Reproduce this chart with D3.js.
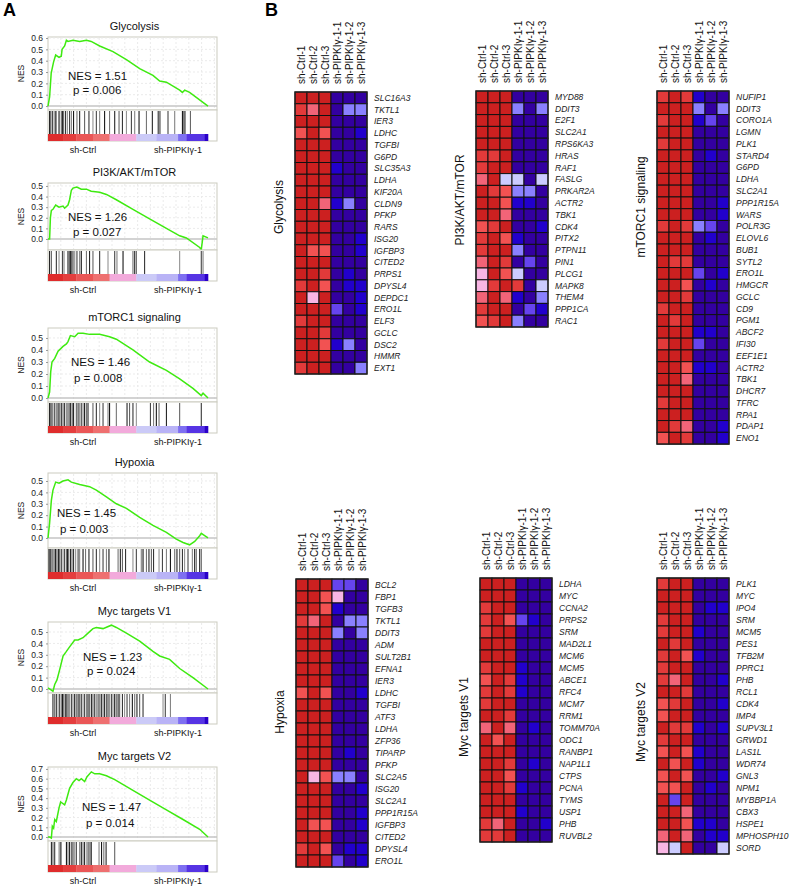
<!DOCTYPE html>
<html><head><meta charset="utf-8">
<script src="https://cdn.jsdelivr.net/npm/d3@7"></script>
<style>body{margin:0;background:#fff;} svg{display:block;font-family:"Liberation Sans",Arial,sans-serif;}</style>
</head><body><svg id="c" width="789" height="886"></svg>
<script>
// ---------------- DATA ----------------
const gseaTitles = ["Glycolysis","PI3K/AKT/mTOR","mTORC1 signaling","Hypoxia","Myc targets V1","Myc targets V2"];
const gseaNES = ["1.51","1.26","1.46","1.45","1.23","1.47"];
const gseaP = ["0.006","0.027","0.008","0.003","0.024","0.014"];
const gseaTickMax = [0.6,0.5,0.5,0.5,0.5,0.7];
const gseaDomains = [[-0.035,0.609],[-0.104,0.528],[-0.033,0.583],[-0.088,0.57],[-0.035,0.588],[-0.041,0.72]];
const groupLabels = ["sh-Ctrl","sh-PIPKIγ-1"];

// running enrichment score: [rank %, ES]
const curveGlycolysis = [[0,0],[1,0.08],[2,0.29],[3.5,0.39],[4.8,0.45],[6.9,0.43],[8.3,0.44],[8.8,0.5],[10.4,0.53],[11.5,0.58],[12.5,0.57],[15.6,0.58],[19.8,0.57],[24,0.58],[27,0.57],[32.3,0.53],[40.6,0.48],[49,0.41],[57.3,0.33],[65.6,0.27],[69.8,0.22],[74,0.21],[82.3,0.14],[84,0.12],[85.4,0.14],[88.5,0.12],[100,0]];
const curvePI3K = [[0,0],[1,0],[1.5,0.2],[2.1,0.27],[3.1,0.28],[4.8,0.32],[6.9,0.3],[9.4,0.31],[10.4,0.29],[12.5,0.32],[13.5,0.37],[14.6,0.46],[15.6,0.48],[18,0.49],[20.8,0.47],[24,0.47],[27,0.45],[32.3,0.44],[36.5,0.42],[42.7,0.37],[53.1,0.28],[63.5,0.19],[74,0.1],[82.3,0.03],[86.5,0.01],[94.8,-0.08],[95.8,-0.1],[96.9,0.03],[100,0.01]];
const curveMTORC1 = [[0,0],[1,0.05],[1.7,0.22],[2.5,0.3],[4.2,0.33],[6.3,0.39],[9.4,0.43],[11.5,0.45],[12.5,0.47],[14,0.52],[16.7,0.51],[18.8,0.54],[21.9,0.54],[26,0.53],[32.3,0.53],[38.5,0.51],[42.7,0.49],[53.1,0.4],[63.5,0.3],[74,0.23],[82.3,0.16],[90.6,0.08],[95.8,0.02],[96.9,0.04],[100,0]];
const curveHypoxia = [[0,0],[1,0.13],[2.1,0.33],[3.1,0.42],[4.8,0.49],[6.9,0.48],[9.4,0.5],[12.5,0.51],[14.6,0.49],[19.8,0.47],[26,0.45],[30.2,0.42],[36.5,0.36],[42.7,0.3],[49,0.26],[57.3,0.18],[65.6,0.11],[74,0.05],[80.2,-0.01],[84.4,-0.04],[88.5,-0.06],[91.7,-0.03],[94.8,0.02],[95.8,0.04],[97.9,0.02],[100,0]];
const curveMycV1 = [[0,0.01],[2.1,-0.01],[3.1,-0.02],[4.2,0.04],[5.6,0.08],[7.3,0.17],[9.4,0.29],[11.5,0.33],[13.5,0.37],[16.7,0.43],[18.8,0.43],[21.9,0.45],[25,0.49],[28.1,0.53],[30.2,0.54],[34.4,0.53],[39.6,0.56],[42.7,0.54],[49,0.49],[57.3,0.42],[65.6,0.33],[69.8,0.29],[76,0.26],[82.3,0.18],[90.6,0.1],[100,0]];
const curveMycV2 = [[0,0],[1,0],[2.1,-0.01],[2.7,0.11],[3.5,0.09],[4.2,0.18],[5.2,0.16],[6.9,0.3],[7.9,0.36],[10.4,0.33],[11.5,0.38],[13.5,0.5],[15.6,0.56],[17.7,0.6],[19.4,0.58],[20.8,0.6],[22.9,0.57],[24.4,0.62],[27.1,0.67],[29.2,0.65],[32.3,0.65],[36.5,0.63],[41.7,0.59],[53.1,0.48],[63.5,0.38],[74,0.28],[84.4,0.18],[94.8,0.08],[100,0]];

// hit positions (rank %)
const hitsGlycolysis = [1,1.7,2.7,3.8,4.6,5.2,6.9,8.3,9,9.8,11,12.1,13.5,14.6,16,18.1,19.8,22.9,25.6,28.1,30.2,32.3,35.4,38.5,41.7,44.4,46.5,49,52.1,54.2,56.9,61.5,65.2,68.8,69.4,70.2,75,79.2,84,84.8,85.6,89];
const hitsPI3K = [1,2.1,5.2,6.9,9,10,12.5,13.5,14,14.6,15.6,16.7,18.1,19.8,20.8,24,26,28.1,32.3,37.5,41.7,43.1,46.9,53.1,54.2,55.2,60.4,82.3,95.8,96.9];
const hitsMTORC1 = [1,1.7,2.5,3.1,4.2,5.2,6.3,7.3,8.3,9.4,10.4,11.5,12.5,13.5,14.2,15.2,16,17.7,18.8,19.8,20.8,21.9,22.9,24,25,28.1,30.2,32.3,34.4,37.5,38.5,42.7,49.4,51,53.1,55.2,64,66,67.7,69.4,74,82.3,95.8];
const hitsHypoxia = [0.6,1,1.7,2.3,3.1,4.2,4.8,5.6,6.5,7.3,8.3,9.4,10.4,11.5,12.1,12.9,14,15,16,17.3,18.8,19.8,21.9,23.5,25.6,28.1,30.2,32.3,34.4,36.5,38.1,43.8,45.2,46.5,48.5,53.1,55.2,58.3,59.4,61.5,63.1,64.6,66,69.4,71.5,74,76.5,79.2,80.6,82.3,84,85.4,87.5,90.2,91.7,92.7,94.8,95.8];
const hitsMycV1 = [3.1,4.2,5.2,6.3,7.3,8.3,9,9.8,10.8,11.5,12.5,13.5,14.6,15.6,16.7,17.7,18.8,19.8,20.8,21.9,22.9,24,25,26,27.1,28.1,29.2,30.2,31.3,32.3,33.3,34.4,35.4,36.5,37.5,38.5,39.6,40.6,41.7,42.7,43.8,44.8,46.5,47.9,49.4,51,52.7,54.2,55.6,57.3,59.4,71.9,73.3,76.5];
const hitsMycV2 = [2.1,3.1,4.2,6.9,7.7,8.3,11.5,12.5,13.5,14.6,15.6,16.7,17.7,19.8,20.8,21.9,22.9,24.4,25.6,26.5,27.1,31.9,33.5,34.9,36.3,41.7];

// ranked-list colour bar: [start %, end %, colour]
const rankBarSegments = [[0,9.4,"#df2c2c"],[9.4,17.7,"#e43e3e"],[17.7,28.1,"#ea5656"],[28.1,38.5,"#ee7070"],[38.5,55.2,"#f2aadb"],[55.2,67.7,"#cbcaf7"],[67.7,81.3,"#b9b3f6"],[81.3,86.5,"#7e6ff1"],[86.5,97.9,"#5634e4"],[97.9,100,"#2a00c8"]];

// heatmaps
const sampleLabels = ["sh-Ctrl-1","sh-Ctrl-2","sh-Ctrl-3","sh-PIPKIγ-1-1","sh-PIPKIγ-1-2","sh-PIPKIγ-1-3"];
const heatmapNames = ["Glycolysis","PI3K/AKT/mTOR","mTORC1 signaling","Hypoxia","Myc targets V1","Myc targets V2"];

const genesGlycolysis = ["SLC16A3","TKTL1","IER3","LDHC","TGFBI","G6PD","SLC35A3","LDHA","KIF20A","CLDN9","PFKP","RARS","ISG20","IGFBP3","CITED2","PRPS1","DPYSL4","DEPDC1","ERO1L","ELF3","GCLC","DSC2","HMMR","EXT1"];
const valuesGlycolysis = [
[3,3,3,-3,-3,-3],[2.5,1.5,3,-3,-1.5,-1.5],[3,3,3,-3,-3,-3],[2,3,2,-3,-3,-2.5],[3,3,3,-3,-3,-3],[3,3,3,-3,-3,-3],
[3,3,3,-2.5,-3,-3],[3,3,3,-3,-3,-3],[3,3,3,-3,-3,-3],[3,3,1.5,-2.5,-1.5,-3],[3,3,3,-3,-3,-3],[3,3,3,-3,-3,-3],
[3,3,3,-3,-3,-2.5],[3,2,2,-3,-3,-2.5],[3,3,3,-3,-3,-3],[3,3,2.5,-3,-2.5,-3],[2.5,3,2,-3,-2.5,-2.5],[3,1,3,-3,-3,-2.5],
[3,3,3,-2,-3,-2.5],[2.5,3,3,-3,-3,-3],[3,3,2.5,-3,-3,-3],[3,3,2,-2.5,-1.5,-3],[3,3,3,-3,-3,-3],[2.5,3,3,-3,-3,-1.5]];

const genesPI3K = ["MYD88","DDIT3","E2F1","SLC2A1","RPS6KA3","HRAS","RAF1","FASLG","PRKAR2A","ACTR2","TBK1","CDK4","PITX2","PTPN11","PIN1","PLCG1","MAPK8","THEM4","PPP1CA","RAC1"];
const valuesPI3K = [
[3,3,3,-3,-3,-3],[3,3,3,-1.5,-3,-1.5],[3,3,3,-3,-3,-3],[3,3,3,-3,-3,-3],[3,3,3,-3,-3,-3],[2.5,2.5,3,-3,-3,-3],
[2.5,3,3,-3,-3,-3],[1.5,3,-1,-1,-3,-1],[3,2.5,2,-1.5,-1.5,-3],[3,3,2,-2.5,-2.5,-3],[3,3,1.5,-3,-3,-3],[2,2.5,3,-3,-3,-2.5],
[2.5,3,2,-2.5,-3,-3],[2.5,3,3,-1.5,-3,-3],[1.5,3,2.5,-3,-2,-3],[1,3,2,-1,-3,-3],[1,2.5,3,2.5,-3,-1],[1.5,3,1.5,-2.5,-3,-1.5],
[2.5,3,3,-3,-2,-2.5],[2,2.5,3,-1.5,-3,-3]];

const genesMTORC1 = ["NUFIP1","DDIT3","CORO1A","LGMN","PLK1","STARD4","G6PD","LDHA","SLC2A1","PPP1R15A","WARS","POLR3G","ELOVL6","BUB1","SYTL2","ERO1L","HMGCR","GCLC","CD9","PGM1","ABCF2","IFI30","EEF1E1","ACTR2","TBK1","DHCR7","TFRC","RPA1","PDAP1","ENO1"];
const valuesMTORC1 = [
[2.5,3,2.5,-2.5,-3,-3],[3,3,3,-1.5,-3,-1.5],[2.5,3,3,-2.5,-2,-3],[3,3,3,-3,-3,-3],[2.5,3,3,-3,-3,-3],[3,3,3,-3,-2.5,-3],
[3,3,3,-3,-3,-3],[3,3,3,-3,-3,-3],[3,3,3,-3,-3,-3],[3,3,3,-3,-3,-2.5],[3,3,3,-3,-3,-2.5],[2.5,3,2.5,-1.5,-2,-3],
[3,3,3,-3,-2.5,-3],[3,3,3,-3,-3,-3],[3,2.5,2.5,-3,-3,-3],[3,3,3,-2,-3,-2.5],[3,3,2,-3,-2.5,-3],[3,3,2.5,-3,-3,-3],
[2.5,3,3,-3,-3,-3],[3,2.5,3,-3,-3,-3],[3,3,3,-2.5,-2.5,-3],[2.5,3,3,-2,-3,-3],[3,3,3,-3,-3,-3],[3,3,2,-2.5,-2.5,-3],
[3,3,1.5,-3,-3,-3],[3,3,3,-3,-3,-3],[2.5,3,3,-3,-3,-3],[3,3,3,-3,-3,-3],[3,2.5,1.5,-3,-3,-2.5],[2,3,2.5,-3,-3,-2.5]];

const genesHypoxia = ["BCL2","FBP1","TGFB3","TKTL1","DDIT3","ADM","SULT2B1","EFNA1","IER3","LDHC","TGFBI","ATF3","LDHA","ZFP36","TIPARP","PFKP","SLC2A5","ISG20","SLC2A1","PPP1R15A","IGFBP3","CITED2","DPYSL4","ERO1L"];
const valuesHypoxia = [
[3,3,3,-2,-2,-3],[3,3,2,1,-3,-3],[3,3,2,-2.5,-3,-3],[2.5,1.5,3,-3,-1.5,-1.5],[3,3,3,-1.5,-3,-1.5],[3,3,3,-3,-3,-3],
[3,3,3,-3,-3,-3],[3,3,3,-3,-3,-3],[3,3,3,-3,-3,-3],[2,3,2,-3,-3,-2.5],[3,3,3,-3,-3,-3],[3,3,3,-3,-3,-3],
[3,3,3,-3,-3,-3],[3,3,3,-3,-3,-3],[3,3,3,-3,-2.5,-3],[3,3,3,-3,-3,-3],[3,1,2,-1.5,-1.5,-3],[3,3,3,-3,-3,-2.5],
[3,3,3,-3,-3,-3],[3,3,3,-3,-3,-2.5],[3,2,2,-3,-3,-2.5],[3,3,3,-3,-3,-3],[2.5,3,2,-3,-2.5,-2.5],[3,3,3,-2,-3,-2.5]];

const genesMycV1 = ["LDHA","MYC","CCNA2","PRPS2","SRM","MAD2L1","MCM6","MCM5","ABCE1","RFC4","MCM7","RRM1","TOMM70A","ODC1","RANBP1","NAP1L1","CTPS","PCNA","TYMS","USP1","PHB","RUVBL2"];
const valuesMycV1 = [
[3,3,3,-3,-3,-3],[3,3,3,-3,-3,-3],[2.5,3,3,-3,-3,-3],[2.5,3,2,-2,-2.5,-3],[2.5,3,3,-3,-3,-3],[3,3,3,-3,-3,-3],
[3,3,3,-3,-3,-3],[2.5,3,3,-2.5,-3,-3],[2,3,2.5,-2.5,-3,-3],[2.5,3,2.5,-2.5,-3,-3],[2.5,3,3,-3,-3,-3],[3,3,2.5,-3,-3,-3],
[1.5,3,1.5,-3,-2.5,-3],[3,2,3,-3,-3,-3],[3,3,3,-3,-3,-3],[3,3,2.5,-3,-2.5,-3],[3,3,2,-3,-3,-3],[3,3,2.5,-2.5,-3,-3],
[3,3,3,-3,-3,-3],[3,3,3,-2.5,-3,-3],[2.5,1.5,3,-3,-3,-2.5],[2.5,2.5,3,-3,-3,-3]];

const genesMycV2 = ["PLK1","MYC","IPO4","SRM","MCM5","PES1","TFB2M","PPRC1","PHB","RCL1","CDK4","IMP4","SUPV3L1","GRWD1","LAS1L","WDR74","GNL3","NPM1","MYBBP1A","CBX3","HSPE1","MPHOSPH10","SORD"];
const valuesMycV2 = [
[2.5,3,3,-3,-3,-3],[3,3,3,-3,-3,-3],[3,3,3,-3,-2.5,-2.5],[2.5,3,3,-3,-3,-3],[2.5,3,3,-2.5,-3,-3],[3,2.5,3,-3,-3,-3],
[2.5,3,2,-2.5,-3,-3],[2.5,3,3,-3,-3,-3],[2.5,1.5,3,-3,-3,-2.5],[3,3,2.5,-3,-3,-3],[2,2.5,3,-3,-3,-2.5],[2,3,3,-3,-3,-3],
[3,2.5,2.5,-2.5,-3,-2.5],[2.5,3,3,-3,-3,-3],[2,3,2,-2.5,-3,-3],[3,2,3,-2.5,-3,-3],[2,3,2,-3,-3,-2.5],[2,2,3,-3,-2.5,-3],
[3,-2,3,-3,-3,-3],[3,3,1.5,-3,-3,-3],[3,3,2,-2.5,-2.5,-3],[1.5,3,1.5,-3,-2.5,-2.5],[1,-1,3,-3,-3,-1]];

// ---------------- LAYOUT ----------------
const gseaCurves = [curveGlycolysis,curvePI3K,curveMTORC1,curveHypoxia,curveMycV1,curveMycV2];
const gseaHits = [hitsGlycolysis,hitsPI3K,hitsMTORC1,hitsHypoxia,hitsMycV1,hitsMycV2];
const gseaTop = [37,183,328,473,622,767];
const gseaEsH = [73,67,74,75,71,74];
const nesPos = [[68,80,73,94],[68,221,73,236],[71,366,74,382],[57,517,60,533],[83,661,87,675],[82,811,86,827]];

const hmGenes = [genesGlycolysis,genesPI3K,genesMTORC1,genesHypoxia,genesMycV1,genesMycV2];
const hmValues = [valuesGlycolysis,valuesPI3K,valuesMTORC1,valuesHypoxia,valuesMycV1,valuesMycV2];
const hmLeft = [295,476,657,296,480,657];
const hmTop = [92,91,91,579,578,578];
const hmRowH = [11.75,11.8,11.77,12,12,12];
const hmNameY = [207,200,207,712,717,722];
const cellW = 12;

// ---------------- DRAW ----------------
const svg = d3.select("#c");
svg.append("rect").attr("width",789).attr("height",886).attr("fill","#fff");
svg.append("text").attr("x",3).attr("y",16).attr("font-size",18).attr("font-weight","bold").text("A");
svg.append("text").attr("x",265).attr("y",16).attr("font-size",18).attr("font-weight","bold").text("B");

const xL = 48, xR = 208, frameR = 217, hitH = 24, cbH = 7;
const frameCol = "#cbcbbf";
const hitCols = ["#111","#555","#222","#888","#333","#777","#000","#666"];

gseaTitles.forEach((title,i)=>{
  const top = gseaTop[i], esH = gseaEsH[i];
  const x = d3.scaleLinear().domain([0,100]).range([xL,xR]);
  const y = d3.scaleLinear().domain(gseaDomains[i]).range([top+esH, top]);
  const g = svg.append("g");
  g.append("text").attr("x",(xL+frameR)/2+2).attr("y",top-7).attr("text-anchor","middle")
    .attr("font-size",11).attr("fill","#111").text(title);
  g.append("rect").attr("x",xL).attr("y",top).attr("width",frameR-xL).attr("height",esH)
    .attr("fill","#fff").attr("stroke",frameCol);
  const ticks = d3.range(0, gseaTickMax[i]+0.001, 0.1);
  const gx = d3.range(8,106,8);
  g.selectAll(".vg").data(gx).join("line").attr("x1",d=>x(d)).attr("x2",d=>x(d))
    .attr("y1",top+1).attr("y2",top+esH-1).attr("stroke","#ebebeb").attr("stroke-dasharray","2,2");
  g.selectAll(".hg").data(ticks.slice(1)).join("line").attr("x1",xL+1).attr("x2",frameR-1)
    .attr("y1",d=>y(d)).attr("y2",d=>y(d)).attr("stroke","#ebebeb").attr("stroke-dasharray","2,2");
  g.append("line").attr("x1",xL).attr("x2",frameR).attr("y1",y(0)).attr("y2",y(0))
    .attr("stroke","#c4c4c4").attr("stroke-width",1.6);
  const ax = g.append("g").attr("transform",`translate(${xL},0)`)
    .call(d3.axisLeft(y).tickValues(ticks).tickFormat(d3.format(".1f")).tickSize(2).tickPadding(3));
  ax.select(".domain").remove();
  ax.selectAll("line").attr("stroke","#999");
  ax.selectAll("text").attr("font-size",8.5).attr("fill","#222").attr("font-family","Liberation Sans,Arial,sans-serif");
  g.append("text").attr("transform",`translate(21,${top+esH/2}) rotate(-90)`).attr("text-anchor","middle")
    .attr("dy","0.35em").attr("font-size",8.5).attr("fill","#222").text("NES");
  g.append("path").datum(gseaCurves[i]).attr("fill","none").attr("stroke","#3eea10").attr("stroke-width",1.5)
    .attr("d", d3.line().x(d=>x(d[0])).y(d=>y(d[1])));
  const np = nesPos[i];
  g.append("text").attr("x",np[0]).attr("y",np[1]).attr("font-size",11.5).attr("fill","#111").text("NES = "+gseaNES[i]);
  g.append("text").attr("x",np[2]).attr("y",np[3]).attr("font-size",11.5).attr("fill","#111").text("p = "+gseaP[i]);
  const hTop = top+esH;
  g.append("rect").attr("x",xL).attr("y",hTop).attr("width",frameR-xL).attr("height",hitH+cbH)
    .attr("fill","#fff").attr("stroke",frameCol);
  g.selectAll(".hit").data(gseaHits[i]).join("line")
    .attr("x1",d=>x(d)).attr("x2",d=>x(d)).attr("y1",hTop+1).attr("y2",hTop+hitH)
    .attr("stroke",(d,k)=>hitCols[k%hitCols.length]).attr("stroke-width",1);
  g.selectAll(".cb").data(rankBarSegments).join("rect")
    .attr("x",d=>x(d[0])).attr("width",d=>x(d[1])-x(d[0])+0.3)
    .attr("y",hTop+hitH).attr("height",cbH).attr("fill",d=>d[2]);
  const cbB = hTop+hitH+cbH;
  g.append("text").attr("x",83).attr("y",cbB+12).attr("text-anchor","middle").attr("font-size",9).attr("fill","#111").text(groupLabels[0]);
  g.append("text").attr("x",178).attr("y",cbB+12).attr("text-anchor","middle").attr("font-size",9).attr("fill","#111").text(groupLabels[1]);
});

const hmColor = d3.scaleLinear()
  .domain([-3,-2.5,-2,-1.5,-1,1,1.5,2,2.5,3])
  .range(["#3300a0","#2200cc","#6644ee","#8a80ff","#ccccff","#f8b6e4","#f26478","#f25252","#e23a3a","#cc2020"]);

heatmapNames.forEach((name,i)=>{
  const genes = hmGenes[i], vals = hmValues[i];
  const left = hmLeft[i], top = hmTop[i], rh = hmRowH[i];
  const xs = d3.scaleBand().domain(d3.range(sampleLabels.length)).range([left, left+cellW*sampleLabels.length]);
  const ys = d3.scaleBand().domain(d3.range(genes.length)).range([top, top+rh*genes.length]);
  const g = svg.append("g");
  vals.forEach((row,r)=>{
    g.selectAll(null).data(row).join("rect")
      .attr("x",(d,c)=>xs(c)).attr("y",ys(r)).attr("width",xs.bandwidth()).attr("height",ys.bandwidth())
      .attr("fill",d=>hmColor(d)).attr("stroke","#111").attr("stroke-width",1);
  });
  g.append("rect").attr("x",left).attr("y",top).attr("width",xs.range()[1]-left).attr("height",ys.range()[1]-top)
    .attr("fill","none").attr("stroke","#222").attr("stroke-width",1.3);
  g.selectAll(".cl").data(sampleLabels).join("text")
    .attr("transform",(d,c)=>`translate(${xs(c)+xs.bandwidth()/2},${top-8}) rotate(-90)`)
    .attr("dy","0.35em").attr("font-size",10).attr("fill","#111").text(d=>d);
  g.selectAll(".gl").data(genes).join("text")
    .attr("x",xs.range()[1]+7).attr("y",(d,r)=>ys(r)+ys.bandwidth()/2).attr("dy","0.35em")
    .attr("font-size",8.5).attr("font-style","italic").attr("fill","#222").text(d=>d);
  g.append("text").attr("transform",`translate(${left-16},${hmNameY[i]}) rotate(-90)`)
    .attr("text-anchor","middle").attr("dy","0.35em").attr("font-size",12).attr("fill","#111").text(name);
});
</script>
</body></html>
